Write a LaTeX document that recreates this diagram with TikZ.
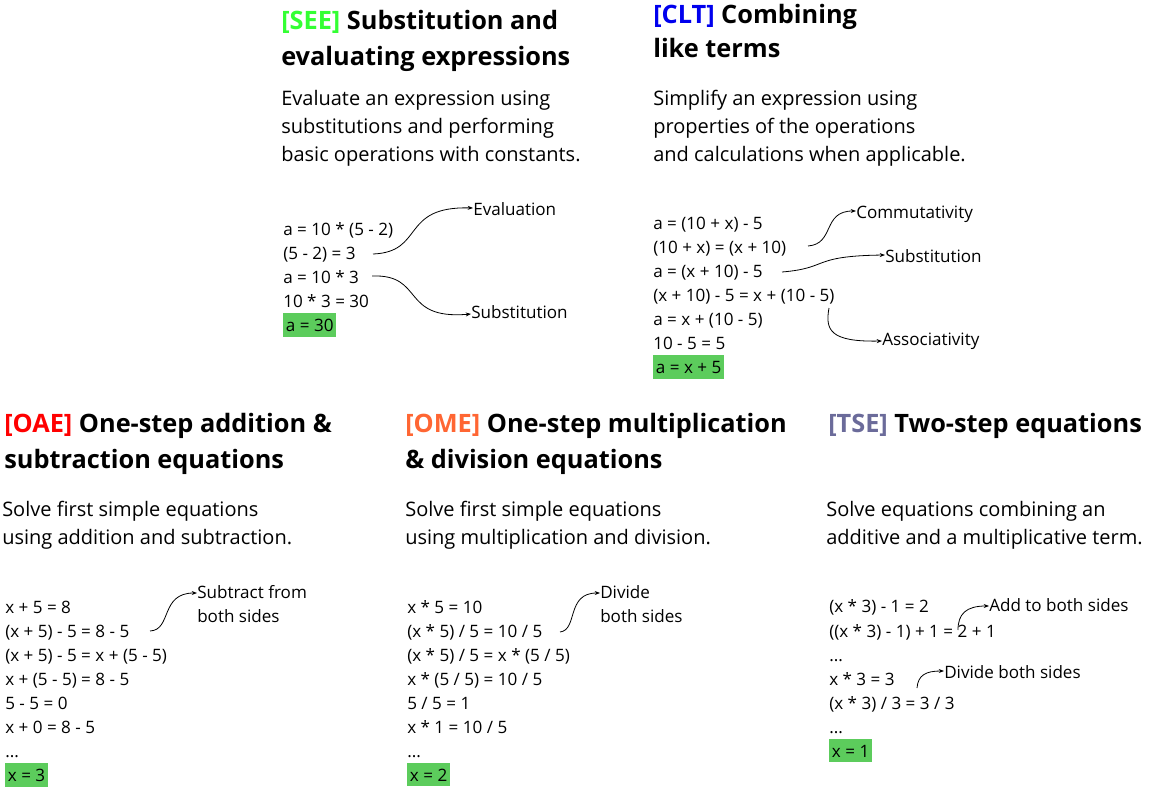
\documentclass[tikz,border=0pt]{standalone}
\usepackage{fontspec}
\setmainfont{Open Sans}
\usetikzlibrary{arrows.meta}
\definecolor{hl}{HTML}{5CCC5C}
\definecolor{cSEE}{HTML}{33FF33}
\definecolor{cCLT}{HTML}{0000EE}
\definecolor{cOAE}{HTML}{FF0000}
\definecolor{cOME}{HTML}{FF6633}
\definecolor{cTSE}{HTML}{6B6B9A}
\begin{document}
\begin{tikzpicture}[x=0.75pt,y=-0.75pt,
 ttl/.style={anchor=base west,inner sep=0pt,font=\fontsize{19}{22}\selectfont\bfseries},
 body/.style={anchor=base west,inner sep=0pt,font=\fontsize{15}{18}\selectfont},
 code/.style={anchor=base west,inner sep=0pt,font=\fontsize{12.8}{15}\selectfont},
 res/.style={code,fill=hl,inner xsep=2pt,inner ysep=4pt},
 arr/.style={-{Stealth[length=4pt,width=3pt]},semithick}]
\useasboundingbox (0,0) rectangle (1167,792);
% SEE
\node[ttl] (t1a) at (281,30) {\textcolor{cSEE}{[SEE]} Substitution and};
\node[ttl] (t1b) at (281,66) {evaluating expressions};
\node[body] (b1a) at (281,105) {Evaluate an expression using};
\node[body] (b1b) at (281,133) {substitutions and performing};
\node[body] (b1c) at (281,161) {basic operations with constants.};
\node[code] (s1) at (283,235) {a = 10 * (5 - 2)};
\node[code] (s2) at (283,259) {(5 - 2) = 3};
\node[code] (s3) at (283,283) {a = 10 * 3};
\node[code] (s4) at (283,307) {10 * 3 = 30};
\node[res] (s5) at (283,331) {a = 30};
\node[code] (le) at (473,215) {Evaluation};
\node[code] (ls) at (471,318) {Substitution};
\coordinate (e1) at (373,254);
\coordinate (e2) at (372,276);
\draw[arr] (e1) .. controls (425,252) and (400,206) .. (le.west|-0,208);
\draw[arr] (e2) .. controls (425,274) and (400,320) .. (ls.west|-0,314);
% CLT
\node[ttl] (t2a) at (653,24) {\textcolor{cCLT}{[CLT]} Combining};
\node[ttl] (t2b) at (653,58) {like terms};
\node[body] (b2a) at (653,105) {Simplify an expression using};
\node[body] (b2b) at (653,133) {properties of the operations};
\node[body] (b2c) at (653,161) {and calculations when applicable.};
\node[code] (c1) at (653,229) {a = (10 + x) - 5};
\node[code] (c2) at (653,253) {(10 + x) = (x + 10)};
\node[code] (c3) at (653,277) {a = (x + 10) - 5};
\node[code] (c4) at (653,301) {(x + 10) - 5 = x + (10 - 5)};
\node[code] (c5) at (653,325) {a = x + (10 - 5)};
\node[code] (c6) at (653,349) {10 - 5 = 5};
\node[res] (c7) at (653,373) {a = x + 5};
\node[code] (lc) at (856,218) {Commutativity};
\node[code] (lsb) at (885,262) {Substitution};
\node[code] (la) at (882,345) {Associativity};
\coordinate (f1) at (808,246);
\coordinate (f2) at (782,272);
\coordinate (f3) at (829,308);
\draw[arr] (f1) .. controls (835,244) and (822,211) .. (lc.west|-0,211);
\draw[arr] (f2) .. controls (830,268) and (810,256) .. (lsb.west|-0,255);
\draw[arr] (f3) .. controls (825,330) and (830,342) .. (la.west|-0,341);
% OAE
\node[ttl] (t3a) at (4,432) {\textcolor{cOAE}{[OAE]} One-step addition \&};
\node[ttl] (t3b) at (4,468) {subtraction equations};
\node[body] (b3a) at (2,516) {Solve first simple equations};
\node[body] (b3b) at (2,544) {using addition and subtraction.};
\node[code] (o1) at (5,613) {x + 5 = 8};
\node[code] (o2) at (5,637) {(x + 5) - 5 = 8 - 5};
\node[code] (o3) at (5,661) {(x + 5) - 5 = x + (5 - 5)};
\node[code] (o4) at (5,685) {x + (5 - 5) = 8 - 5};
\node[code] (o5) at (5,709) {5 - 5 = 0};
\node[code] (o6) at (5,733) {x + 0 = 8 - 5};
\node[code] (o7) at (5,757) {...};
\node[res] (o8) at (5,781) {x = 3};
\node[code] (lo1) at (197,598) {Subtract from};
\node[code] (lo2) at (197,622) {both sides};
\coordinate (g1) at (150,631);
\draw[arr] (g1) .. controls (172,630) and (160,593) .. (lo1.west|-0,593);
% OME
\node[ttl] (t4a) at (405,432) {\textcolor{cOME}{[OME]} One-step multiplication};
\node[ttl] (t4b) at (405,468) {\& division equations};
\node[body] (b4a) at (405,516) {Solve first simple equations};
\node[body] (b4b) at (405,544) {using multiplication and division.};
\node[code] (m1) at (407,613) {x * 5 = 10};
\node[code] (m2) at (407,637) {(x * 5) / 5 = 10 / 5};
\node[code] (m3) at (407,661) {(x * 5) / 5 = x * (5 / 5)};
\node[code] (m4) at (407,685) {x * (5 / 5) = 10 / 5};
\node[code] (m5) at (407,709) {5 / 5 = 1};
\node[code] (m6) at (407,733) {x * 1 = 10 / 5};
\node[code] (m7) at (407,757) {...};
\node[res] (m8) at (407,781) {x = 2};
\node[code] (lm1) at (600,598) {Divide};
\node[code] (lm2) at (600,622) {both sides};
\coordinate (h1) at (560,632);
\draw[arr] (h1) .. controls (578,630) and (566,593) .. (lm1.west|-0,593);
% TSE
\node[ttl] (t5a) at (828,432) {\textcolor{cTSE}{[TSE]} Two-step equations};
\node[body] (b5a) at (826,516) {Solve equations combining an};
\node[body] (b5b) at (826,544) {additive and a multiplicative term.};
\node[code] (w1) at (829,612) {(x * 3) - 1 = 2};
\node[code] (w2) at (829,637) {((x * 3) - 1) + 1 = 2 + 1};
\node[code] (w3) at (829,661) {...};
\node[code] (w4) at (829,685) {x * 3 = 3};
\node[code] (w5) at (829,709) {(x * 3) / 3 = 3 / 3};
\node[code] (w6) at (829,733) {...};
\node[res] (w7) at (829,757) {x = 1};
\node[code] (lw1) at (989,611) {Add to both sides};
\node[code] (lw2) at (944,678) {Divide both sides};
\coordinate (k1) at (958,630);
\coordinate (k2) at (917,688);
\draw[arr] (k1) .. controls (958,614) and (966,606) .. (lw1.west|-0,606);
\draw[arr] (k2) .. controls (918,675) and (926,671) .. (lw2.west|-0,671);
\end{tikzpicture}
\end{document}
